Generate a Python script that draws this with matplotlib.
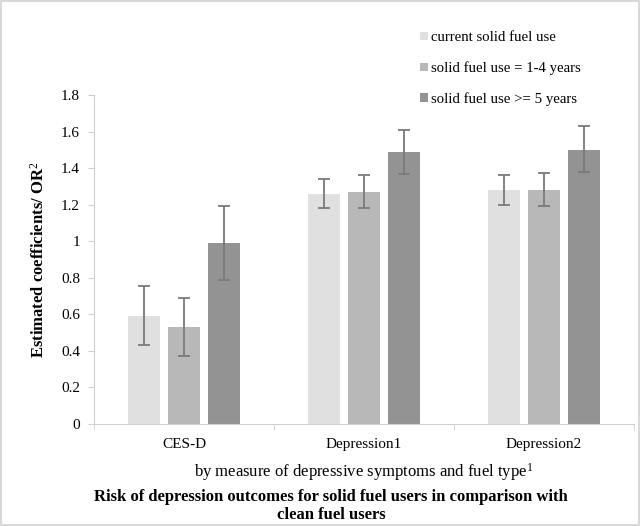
import matplotlib
matplotlib.use("Agg")
import matplotlib.pyplot as plt
import numpy as np

categories = ["CES-D", "Depression1", "Depression2"]
series_names = ["current solid fuel use", "solid fuel use = 1-4 years", "solid fuel use >= 5 years"]
values = [
    [0.59, 1.26, 1.28],
    [0.53, 1.27, 1.28],
    [0.99, 1.49, 1.50],
]
lower = [
    [0.43, 1.18, 1.20],
    [0.37, 1.18, 1.19],
    [0.79, 1.37, 1.38],
]
upper = [
    [0.755, 1.34, 1.365],
    [0.69, 1.36, 1.375],
    [1.195, 1.61, 1.63],
]
colors = ["#e0e0e0", "#b8b8b8", "#939393"]
yticks = [0, 0.2, 0.4, 0.6, 0.8, 1, 1.2, 1.4, 1.6, 1.8]
ytick_labels = ["0", "0.2", "0.4", "0.6", "0.8", "1", "1.2", "1.4", "1.6", "1.8"]

plt.rcParams['font.family'] = ['Liberation Serif', 'DejaVu Serif']
plt.rcParams['mathtext.fontset'] = 'custom'
plt.rcParams['mathtext.rm'] = 'Liberation Serif'
plt.rcParams['mathtext.it'] = 'Liberation Serif:italic'
plt.rcParams['mathtext.bf'] = 'Liberation Serif:bold'

fig = plt.figure(figsize=(6.4, 5.26), dpi=100)
ax = fig.add_axes([94/640, 1 - 424/526, 540/640, (424 - 95)/526])

x = np.arange(len(categories))
bw = 32/180
step = 40/180
for i in range(3):
    v = np.array(values[i])
    err = np.array([v - np.array(lower[i]), np.array(upper[i]) - v])
    ax.bar(x + (i - 1) * step, v, width=bw, color=colors[i], label=series_names[i],
           edgecolor="none", zorder=2)
    ax.errorbar(x + (i - 1) * step, v, yerr=err, fmt="none", ecolor="#7a7a7a",
                elinewidth=1.3, capsize=4, capthick=1.3, zorder=3)

ax.set_xlim(-0.5, 2.5)
ax.set_ylim(0, 1.8)
ax.set_yticks(yticks)
ax.set_yticklabels(ytick_labels, fontsize=11)
ax.set_xticks(x)
ax.set_xticklabels(categories, fontsize=11)
ax.set_xticks([-0.5, 0.5, 1.5, 2.5], minor=True)
ax.tick_params(axis="x", which="major", length=0, pad=10)
ax.tick_params(axis="x", which="minor", length=4, color="#d0d0d0")
ax.tick_params(axis="y", length=4, color="#d0d0d0", pad=6)
for s in ["top", "right"]:
    ax.spines[s].set_visible(False)
ax.spines["left"].set_color("#d0d0d0")
ax.spines["bottom"].set_color("#d0d0d0")

ax.set_ylabel(r"Estimated coefficients/ OR$^{2}$", fontsize=12, fontweight="bold", labelpad=10)
ax.set_xlabel(r"by measure of depressive symptoms and fuel type$^{\mathit{1}}$", fontsize=12, labelpad=7)

fig.text(331/640, 1 - 489/526, "Risk of depression outcomes for solid fuel users in comparison with\nclean fuel users",
         ha="center", va="top", fontsize=12, fontweight="bold", linespacing=1.2)

leg = ax.legend(loc="upper left", bbox_to_anchor=(407/640, 1 - 18/526), bbox_transform=fig.transFigure,
                frameon=False, fontsize=10.6, handlelength=0.5, handleheight=0.5,
                handletextpad=0.2, labelspacing=1.15)

border = plt.Rectangle((0.002, 0.002), 0.996, 0.996, transform=fig.transFigure, fill=False,
                       edgecolor="#d9d9d9", linewidth=1.5)
fig.patches.append(border)

fig.savefig("out.png", dpi=100)
